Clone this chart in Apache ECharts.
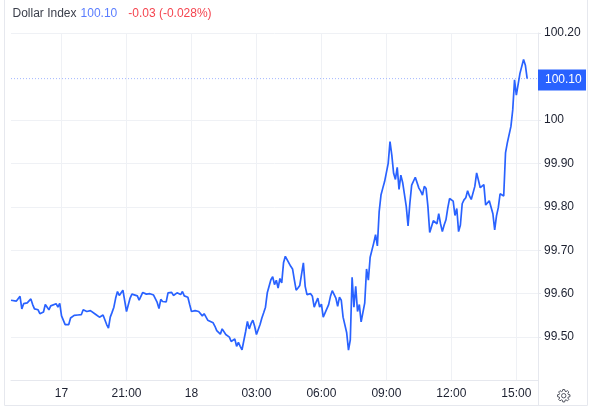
<!DOCTYPE html>
<html><head><meta charset="utf-8">
<style>html,body{margin:0;padding:0;background:#fff}#c{width:600px;height:406px}</style>
<script src="https://cdn.jsdelivr.net/npm/echarts@6/dist/echarts.min.js"></script>
</head><body><div id="c"></div>
<script>
const slotCount = 293; // 5-minute slots
const tickSlots = [28,64,100,136,172,208,244,280];
const tickLabels = ['17','21:00','18','03:00','06:00','09:00','12:00','15:00'];
const priceTicks = [99.5,99.6,99.7,99.8,99.9,100,100.2];
const priceTickLabels = ['99.50','99.60','99.70','99.80','99.90','100','100.20'];
const lastPrice = 100.095;
const lastPriceLabel = '100.10';
const times = [0,1,3,5,6,7,9,10,11,12,13,14,15,16,17,18,19,20,21,22,23,25,26,27,28,30,31,32,33,35,36,37,39,40,41,42,44,45,47,48,49,50,51,52,53,54,55,56,57,58,59,60,61,62,63,64,65,66,67,68,70,71,72,73,75,76,77,78,79,80,81,82,83,84,85,86,87,88,89,90,92,93,94,95,96,98,99,100,101,102,
104,106,107,108,109,110,112,113,114,115,116,117,118,119,120,121,122,123,124,125,126,127,128,129,130,131,132,133,134,135,136,137,138,139,140,141,142,143,144,145,146,147,148,149,150,151,152,153,155,156,157,158,159,160,161,162,163,164,166,167,168,169,170,171,172,173,174,176,177,178,179,180,181,182,183,184,185,186,187,188,189,190,191,192,193,194,195,196,197,198,199,200,201,
202,203,204,205,206,207,209,210,211,212,213,214,215,216,217,218,219,220,221,222,223,224,225,226,227,228,229,230,231,232,233,234,235,236,237,238,239,240,241,242,243,244,245,246,247,248,249,250,251,252,253,
254,255,257,258,260,261,262,263,265,267,268,269,270,271,273,274,275,277,278,279,280,281,282,283,284,285,286];
const prices = [99.585,99.585,99.583,99.594,99.565,99.577,99.579,99.578,99.588,99.575,99.565,99.569,99.563,99.554,99.555,99.558,99.575,99.572,99.563,99.572,99.575,99.577,99.569,99.578,99.549,99.529,99.528,99.529,99.544,99.550,99.552,99.551,99.552,99.563,99.562,99.559,99.561,99.557,99.552,99.549,99.546,99.542,99.551,99.552,99.529,99.521,99.546,99.557,99.569,99.590,99.605,99.596,99.600,99.608,99.609,99.559,99.561,99.590,99.599,99.600,99.595,99.585,99.585,99.603,99.599,99.602,99.600,99.604,99.597,99.596,99.580,99.566,99.587,99.582,99.584,99.581,99.602,99.604,99.603,99.596,99.602,99.605,99.598,99.605,99.595,99.592,99.575,99.559,99.555,99.561,
99.559,99.549,99.554,99.552,99.539,99.535,99.533,99.525,99.515,99.513,99.507,99.519,99.517,99.506,99.505,99.500,99.490,99.493,99.496,99.479,99.488,99.479,99.471,99.470,99.513,99.536,99.519,99.531,99.539,99.525,99.506,99.509,99.529,99.544,99.556,99.569,99.602,99.605,99.632,99.639,99.621,99.631,99.613,99.635,99.625,99.671,99.686,99.689,99.663,99.657,99.632,99.608,99.613,99.619,99.621,99.671,99.617,99.598,99.600,99.594,99.569,99.580,99.590,99.569,99.576,99.546,99.549,99.575,99.594,99.607,99.605,99.590,99.571,99.592,99.585,99.546,99.542,99.510,99.470,99.494,99.638,99.569,99.617,99.559,99.575,99.535,99.535,99.579,99.657,99.631,99.684,99.686,99.717,
99.736,99.710,99.789,99.827,99.843,99.858,99.900,99.950,99.919,99.877,99.863,99.891,99.840,99.873,99.856,99.856,99.801,99.756,99.808,99.850,99.848,99.868,99.869,99.843,99.836,99.827,99.847,99.842,99.801,99.741,99.737,99.768,99.769,99.761,99.784,99.761,99.743,99.758,99.770,99.797,99.819,99.816,99.813,99.780,99.796,99.743,99.758,99.807,99.816,99.821,99.837,
99.825,99.817,99.847,99.878,99.844,99.840,99.851,99.804,99.814,99.784,99.747,99.779,99.798,99.830,99.825,99.924,99.947,99.985,100.023,100.092,100.057,100.057,100.107,100.105,100.139,100.126,100.095];

const categories = Array.from({length: slotCount}, (_, i) => {
  const k = tickSlots.indexOf(i);
  return k >= 0 ? tickLabels[k] : '';
});
const isTick = i => tickSlots.indexOf(i) >= 0;
const gridColor = '#eff1f5';
const borderColor = '#e6e8ee';
const gearPts = [];
for (let i = 0; i < 8; i++) {
  const a0 = i * Math.PI / 4;
  [[-0.28,4.7],[-0.15,6.3],[0.15,6.3],[0.28,4.7]].forEach(p => gearPts.push([p[1]*Math.cos(a0+p[0]), p[1]*Math.sin(a0+p[0])]));
}
const chart = echarts.init(document.getElementById('c'), null, {renderer:'canvas'});
chart.setOption({
  animation:false,
  title:{
    left:7.5, top:3,
    text:'{a|Dollar Index}{b|100.10}{c|-0.03 (-0.028%)}',
    textStyle:{fontWeight:'normal',rich:{
      a:{fontFamily:'Liberation Sans',fontSize:12,fontWeight:'normal',color:'#3a3e4a'},
      b:{fontFamily:'Liberation Sans',fontSize:12,fontWeight:'normal',color:'#5a7dff',padding:[0,0,0,4]},
      c:{fontFamily:'Liberation Sans',fontSize:12,fontWeight:'normal',color:'#f5444f',padding:[0,0,0,11]}
    }}
  },
  grid:{left:11, right:62, top:33, bottom:25.4, containLabel:false},
  xAxis:{
    type:'category', data:categories, boundaryGap:false,
    axisLine:{lineStyle:{color:borderColor,width:1}},
    axisTick:{show:false},
    axisLabel:{interval:isTick,color:'#1c2030',fontFamily:'Liberation Sans',fontSize:12,margin:7,hideOverlap:false},
    splitLine:{show:true,interval:isTick,lineStyle:{color:gridColor,width:1}}
  },
  yAxis:{
    type:'value', position:'right', min:99.4, max:100.2, interval:0.1,
    axisLine:{show:true,lineStyle:{color:borderColor,width:1}},
    axisTick:{show:true,length:3,lineStyle:{color:borderColor},customValues:priceTicks},
    axisLabel:{customValues:priceTicks,color:'#1c2030',fontFamily:'Liberation Sans',fontSize:12,margin:6,padding:[2,0,0,0],
      formatter:v=>{const k=priceTicks.findIndex(t=>Math.abs(t-v)<1e-6);return k>=0?priceTickLabels[k]:'';}},
    splitLine:{show:true,lineStyle:{color:gridColor,width:1}}
  },
  series:[{
    type:'line', symbol:'none', smooth:false, z:5,
    lineStyle:{color:'#2962ff',width:1.7},
    data:times.map((t,i)=>[t,prices[i]])
  },{
    type:'line', symbol:'none', z:4, silent:true,
    lineStyle:{color:'#a3b8ff',type:[1,2],width:1},
    data:[[0,lastPrice],[slotCount-1,lastPrice]],
    endLabel:{show:true,distance:0,formatter:lastPriceLabel,color:'#fff',
      backgroundColor:'#2962ff',fontFamily:'Liberation Sans',fontSize:12,fontWeight:500,
      padding:[4,6,4,7],lineHeight:13,width:35,align:'left',offset:[0,1.3]}
  }],
  graphic:[
    {type:'line',silent:true,shape:{x1:4.5,y1:0,x2:4.5,y2:405.5},style:{stroke:borderColor,lineWidth:1}},
    {type:'line',silent:true,shape:{x1:587.5,y1:0,x2:587.5,y2:405.5},style:{stroke:borderColor,lineWidth:1}},
    {type:'line',silent:true,shape:{x1:4.5,y1:405.5,x2:587.5,y2:405.5},style:{stroke:borderColor,lineWidth:1}},
    {type:'line',silent:true,shape:{x1:538.5,y1:380,x2:538.5,y2:405},style:{stroke:borderColor,lineWidth:1}},
    {type:'group',left:555,top:387,silent:true,children:[
      {type:'polygon',x:7,y:7,shape:{points:gearPts},style:{fill:'none',stroke:'#50535e',lineWidth:1}},
      {type:'circle',x:7,y:7,shape:{r:2.2},style:{fill:'none',stroke:'#50535e',lineWidth:1}}
    ]}
  ]
});
</script></body></html>
